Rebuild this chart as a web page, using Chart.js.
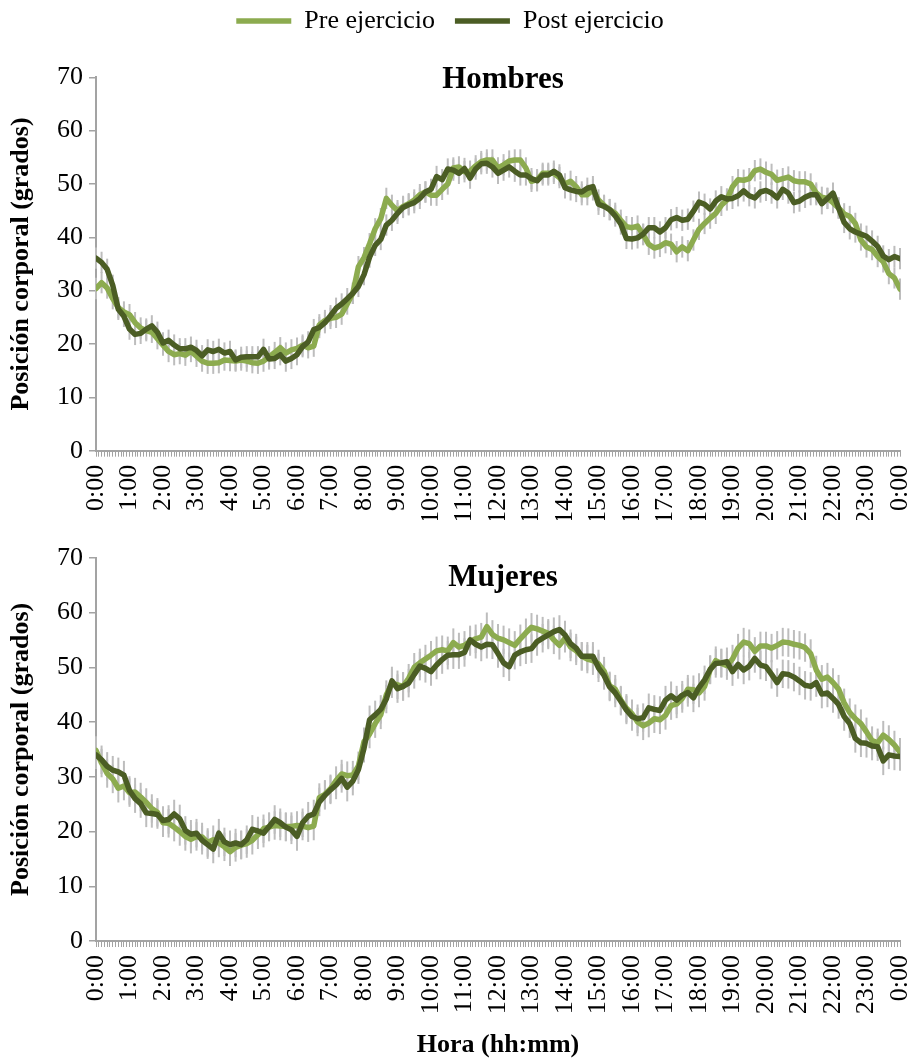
<!DOCTYPE html>
<html>
<head>
<meta charset="utf-8">
<script src="https://cdn.jsdelivr.net/npm/chart.js@4.4.1/dist/chart.umd.min.js"></script>
<style>
  html, body { margin: 0; padding: 0; background: #fff; }
  #panel-hombres { position: absolute; left: 0; top: 0; width: 913px; height: 520px; }
  #panel-mujeres { position: absolute; left: 0; top: 520px; width: 913px; height: 541px; }
</style>
</head>
<body>
<div id="panel-hombres"><canvas id="hombres"></canvas></div>
<div id="panel-mujeres"><canvas id="mujeres"></canvas></div>
<script>
// Posición corporal cada 10 minutos, de 0:00 a 24:00
const preHombres = [
  30.4, 31.5, 30.5, 28.5, 26.8, 26.0, 25.5, 24.0, 23.0, 22.5,
  22.2, 21.0, 19.8, 18.6, 18.0, 18.2, 17.9, 18.6, 17.7, 16.8,
  16.4, 16.4, 16.5, 17.0, 16.9, 16.8, 17.0, 16.8, 16.5, 16.4,
  16.8, 17.6, 18.4, 19.3, 18.3, 18.9, 19.2, 19.8, 19.3, 19.6,
  23.6, 24.4, 24.8, 25.0, 25.6, 27.5, 29.5, 34.5, 36.2, 38.8,
  41.6, 43.5, 47.3, 46.0, 45.0, 45.8, 46.3, 47.0, 48.0, 48.5,
  47.9, 47.9, 49.0, 50.0, 53.0, 53.2, 52.3, 52.4, 53.4, 54.2,
  54.5, 54.5, 53.0, 53.6, 54.3, 54.5, 54.5, 53.0, 50.5, 50.8,
  52.0, 52.0, 52.0, 51.2, 50.0, 50.5, 49.5, 48.0, 48.0, 48.9,
  47.0, 46.0, 45.2, 44.5, 43.2, 42.0, 41.8, 42.1, 40.5, 38.7,
  38.0, 38.3, 39.0, 38.7, 37.3, 38.2, 37.5, 39.5, 41.5, 42.6,
  43.6, 44.5, 46.0, 47.0, 49.5, 50.8, 50.7, 51.0, 52.5, 52.8,
  52.2, 51.8, 50.7, 51.0, 51.3, 50.6, 50.4, 50.4, 50.0, 48.3,
  47.5, 47.3, 46.5, 45.5, 44.4, 43.9, 42.6, 39.5, 38.2, 37.7,
  36.4, 35.4, 33.2, 32.4, 30.3
];
const postHombres = [
  36.1, 35.3, 34.0, 31.0, 26.5, 25.2, 22.8, 21.8, 22.0, 22.8,
  23.4, 22.2, 20.2, 20.7, 19.8, 19.1, 19.1, 19.4, 18.8, 17.8,
  18.9, 18.6, 19.0, 18.3, 18.6, 17.0, 17.5, 17.6, 17.6, 17.6,
  19.0, 17.2, 17.3, 18.0, 16.8, 17.3, 18.0, 19.5, 20.4, 22.7,
  23.1, 24.0, 25.3, 26.7, 27.5, 28.5, 29.5, 30.8, 33.0, 36.3,
  38.5, 39.6, 42.3, 43.2, 44.5, 45.6, 46.1, 46.5, 47.3, 48.5,
  49.0, 51.4, 50.8, 52.8, 52.6, 52.0, 52.9, 51.1, 52.8, 53.8,
  53.9, 53.2, 52.0, 52.6, 53.2, 52.4, 51.7, 51.7, 51.0, 50.6,
  51.7, 51.7, 52.4, 51.7, 49.3, 48.9, 48.6, 48.5, 49.2, 49.5,
  46.2, 45.8, 45.2, 44.0, 42.5, 39.8, 39.7, 39.9, 40.6, 41.8,
  41.8, 41.0, 41.8, 43.3, 43.7, 43.2, 43.4, 44.9, 46.6, 46.2,
  45.3, 46.8, 47.6, 47.2, 47.3, 47.8, 48.7, 47.8, 47.4, 48.5,
  48.8, 48.3, 47.4, 49.0, 48.3, 46.5, 46.8, 47.5, 48.0, 48.0,
  46.3, 47.3, 48.3, 45.5, 42.8, 41.6, 41.0, 40.6, 40.2, 39.3,
  38.3, 36.5, 35.8, 36.4, 36.0
];
const preMujeres = [
  34.8, 32.5, 30.6, 29.6, 27.9, 28.3, 27.1, 27.2, 26.3, 25.3,
  24.2, 23.5, 21.6, 21.5, 20.8, 20.0, 19.1, 18.6, 19.1, 19.0,
  18.0, 18.5, 17.9, 17.2, 16.3, 17.1, 17.5, 17.8, 18.4, 19.4,
  20.5, 20.8, 21.1, 21.0, 20.9, 20.9, 21.1, 21.0, 20.7, 21.0,
  26.2, 26.8, 27.8, 29.3, 30.5, 30.2, 30.3, 32.0, 36.4, 37.8,
  39.7, 41.3, 45.0, 47.0, 46.8, 46.5, 48.0, 50.0, 50.8, 51.5,
  52.2, 53.0, 53.2, 53.0, 54.5, 53.7, 54.0, 54.7, 55.2, 55.5,
  57.4, 56.0, 55.3, 55.0, 54.5, 54.0, 55.2, 56.3, 57.3, 57.0,
  56.6, 56.2, 55.0, 54.0, 55.3, 53.7, 53.0, 52.0, 51.5, 51.2,
  50.6, 49.3, 46.6, 46.0, 44.0, 42.5, 41.5, 40.0, 39.3, 39.8,
  40.6, 40.4, 41.2, 43.0, 43.3, 44.3, 46.0, 45.9, 45.3, 46.5,
  49.5, 51.2, 50.7, 50.3, 51.5, 53.5, 54.6, 54.3, 52.9, 53.9,
  53.9, 53.5, 54.0, 54.6, 54.5, 54.2, 54.0, 53.6, 52.5, 49.5,
  47.8, 48.2, 47.2, 46.0, 43.5, 41.7, 40.6, 39.7, 38.2, 36.6,
  36.2, 37.6, 36.8, 35.8, 34.5
];
const postMujeres = [
  34.0, 33.1, 31.9, 31.2, 30.9, 30.3, 27.5, 26.0, 25.1, 23.4,
  23.3, 23.1, 22.0, 22.2, 23.2, 22.3, 20.2, 19.5, 19.7, 18.4,
  17.6, 16.8, 19.7, 18.1, 17.6, 17.9, 17.6, 18.5, 20.4, 20.1,
  19.7, 20.9, 22.2, 21.6, 20.8, 20.3, 19.1, 21.6, 22.8, 23.2,
  25.4, 26.6, 27.6, 28.5, 29.7, 28.1, 29.2, 31.3, 35.2, 40.4,
  41.3, 42.3, 44.2, 47.5, 46.1, 46.5, 47.1, 48.7, 50.2, 49.8,
  49.2, 50.4, 51.4, 52.2, 52.3, 52.3, 52.7, 55.0, 54.2, 53.7,
  54.2, 54.1, 52.5, 50.8, 50.1, 52.2, 52.8, 53.2, 53.4, 54.7,
  55.3, 55.9, 56.5, 56.9, 55.9, 54.3, 53.5, 52.0, 52.0, 52.0,
  49.9, 48.5, 46.4, 45.3, 43.8, 42.2, 41.0, 40.6, 40.8, 42.6,
  42.3, 42.1, 44.0, 44.8, 44.0, 44.9, 45.4, 44.4, 46.3, 47.7,
  49.6, 50.7, 50.8, 51.0, 49.2, 50.5, 49.5, 50.2, 51.6, 50.4,
  50.1, 48.7, 47.2, 48.8, 48.7, 48.2, 47.5, 46.7, 46.5, 47.2,
  45.1, 45.3, 44.3, 43.2, 41.0, 39.7, 37.0, 36.2, 36.1, 35.6,
  35.5, 32.9, 34.0, 33.8, 33.7
];

// error estándar aproximado de cada panel (grados)
const errorHombres = 2.0;
const errorMujeres = 2.6;

const etiquetasHora = [
  '0:00', '1:00', '2:00', '3:00', '4:00', '5:00', '6:00', '7:00', '8:00',
  '9:00', '10:00', '11:00', '12:00', '13:00', '14:00', '15:00', '16:00',
  '17:00', '18:00', '19:00', '20:00', '21:00', '22:00', '23:00', '0:00'
];
const ticksY = [0, 10, 20, 30, 40, 50, 60, 70];

const horas = preHombres.map((_, i) => i / 6);

const FUENTE = "'Liberation Serif', 'Times New Roman', serif";
const GRIS = '#a3a3a3';
const VERDE_CLARO = '#8cab4f';
const VERDE_OSCURO = '#4b5d24';

// barras de error grises, debajo de las líneas
const barrasError = {
    id: 'barrasError',
    beforeDatasetsDraw(chart) {
        const { ctx, scales } = chart;
        ctx.save();
        ctx.strokeStyle = '#bdbdbd';
        ctx.lineWidth = 2;
        chart.data.datasets.forEach((ds) => {
            ds.data.forEach((v, i) => {
                const x = scales.x.getPixelForValue(chart.data.labels[i]);
                ctx.beginPath();
                ctx.moveTo(x, scales.y.getPixelForValue(v - ds.errorEstandar));
                ctx.lineTo(x, scales.y.getPixelForValue(v + ds.errorEstandar));
                ctx.stroke();
            });
        });
        ctx.restore();
    }
};

// título del panel dentro del área de trazado
const tituloPanel = {
    id: 'tituloPanel',
    afterDraw(chart, args, opts) {
        const { ctx, chartArea } = chart;
        ctx.save();
        ctx.font = 'bold 31px ' + FUENTE;
        ctx.fillStyle = '#000';
        ctx.textAlign = 'center';
        ctx.textBaseline = 'middle';
        ctx.fillText(opts.texto, (chartArea.left + chartArea.right) / 2 + 5, chartArea.top + opts.desfase);
        ctx.restore();
    }
};

// altura fija para la leyenda del panel superior
const alturaLeyenda = {
    id: 'alturaLeyenda',
    beforeInit(chart) {
        const fitOriginal = chart.legend.fit;
        chart.legend.fit = function () {
            fitOriginal.call(this);
            this.height = 89.3;
        };
    }
};

function crearPanel(canvasId, pre, post, error, opciones) {
    const ctx = document.getElementById(canvasId).getContext('2d');
    return new Chart(ctx, {
        type: 'line',
        data: {
            labels: horas,
            datasets: [
                {
                    label: 'Pre ejercicio',
                    data: pre,
                    errorEstandar: error,
                    borderColor: VERDE_CLARO,
                    backgroundColor: VERDE_CLARO,
                    borderWidth: 5.5,
                    borderCapStyle: 'round',
                    borderJoinStyle: 'round',
                    pointRadius: 0,
                    tension: 0,
                    order: 1
                },
                {
                    label: 'Post ejercicio',
                    data: post,
                    errorEstandar: error,
                    borderColor: VERDE_OSCURO,
                    backgroundColor: VERDE_OSCURO,
                    borderWidth: 5.5,
                    borderCapStyle: 'round',
                    borderJoinStyle: 'round',
                    pointRadius: 0,
                    tension: 0,
                    order: 0
                }
            ]
        },
        options: {
            responsive: true,
            maintainAspectRatio: false,
            animation: false,
            layout: { padding: opciones.padding },
            plugins: {
                tooltip: { enabled: false },
                legend: {
                    display: opciones.leyenda,
                    position: 'top',
                    labels: {
                        usePointStyle: true,
                        pointStyle: 'line',
                        pointStyleWidth: 55,
                        color: '#000',
                        font: { family: FUENTE, size: 26 },
                        padding: 20,
                        sort: (a, b) => a.datasetIndex - b.datasetIndex
                    }
                },
                tituloPanel: { texto: opciones.titulo, desfase: opciones.desfaseTitulo }
            },
            scales: {
                x: {
                    type: 'linear',
                    min: 0,
                    max: 24,
                    afterBuildTicks: (scale) => {
                        const marcas = [];
                        for (let m = 0; m <= 1440; m += 5) marcas.push({ value: m / 60 });
                        scale.ticks = marcas;
                    },
                    afterFit: (scale) => {
                        scale.height = opciones.altoEjeX;
                        scale.paddingLeft = 0;
                        scale.paddingRight = 0;
                    },
                    ticks: {
                        autoSkip: false,
                        minRotation: 90,
                        maxRotation: 90,
                        padding: 8,
                        color: '#000',
                        font: { family: FUENTE, size: 26 },
                        callback: (value) => {
                            const m = Math.round(value * 60);
                            return m % 60 === 0 ? etiquetasHora[m / 60] : '';
                        }
                    },
                    grid: {
                        drawOnChartArea: false,
                        drawTicks: true,
                        tickLength: 6,
                        color: GRIS,
                        lineWidth: 1
                    },
                    border: { display: true, color: GRIS, width: 2 },
                    title: {
                        display: opciones.tituloX,
                        text: 'Hora (hh:mm)',
                        color: '#000',
                        font: { family: FUENTE, size: 26, weight: 'bold' },
                        padding: { top: 0, bottom: 0 }
                    }
                },
                y: {
                    min: 0,
                    max: 70,
                    afterBuildTicks: (scale) => {
                        scale.ticks = ticksY.map(v => ({ value: v }));
                    },
                    afterFit: (scale) => {
                        scale.width = 96;
                        scale.paddingTop = 0;
                        scale.paddingBottom = 0;
                    },
                    ticks: {
                        padding: 6,
                        color: '#000',
                        font: { family: FUENTE, size: 26 }
                    },
                    grid: {
                        drawOnChartArea: false,
                        drawTicks: true,
                        tickLength: 7,
                        color: GRIS,
                        lineWidth: 1.5
                    },
                    border: { display: true, color: GRIS, width: 2 },
                    title: {
                        display: true,
                        text: 'Posición corporal (grados)',
                        color: '#000',
                        font: { family: FUENTE, size: 26, weight: 'bold' },
                        padding: { top: 6, bottom: 0 }
                    }
                }
            }
        },
        plugins: opciones.extras
    });
}

crearPanel('hombres', preHombres, postHombres, errorHombres, {
    padding: { top: -12, right: 13, bottom: 0, left: 0 },
    leyenda: true,
    titulo: 'Hombres',
    desfaseTitulo: 3,
    altoEjeX: 69.3,
    tituloX: false,
    extras: [alturaLeyenda, barrasError, tituloPanel]
});

crearPanel('mujeres', preMujeres, postMujeres, errorMujeres, {
    padding: { top: 37.75, right: 13, bottom: 0, left: 0 },
    leyenda: false,
    titulo: 'Mujeres',
    desfaseTitulo: 20,
    altoEjeX: 120,
    tituloX: true,
    extras: [barrasError, tituloPanel]
});
</script>
</body>
</html>
